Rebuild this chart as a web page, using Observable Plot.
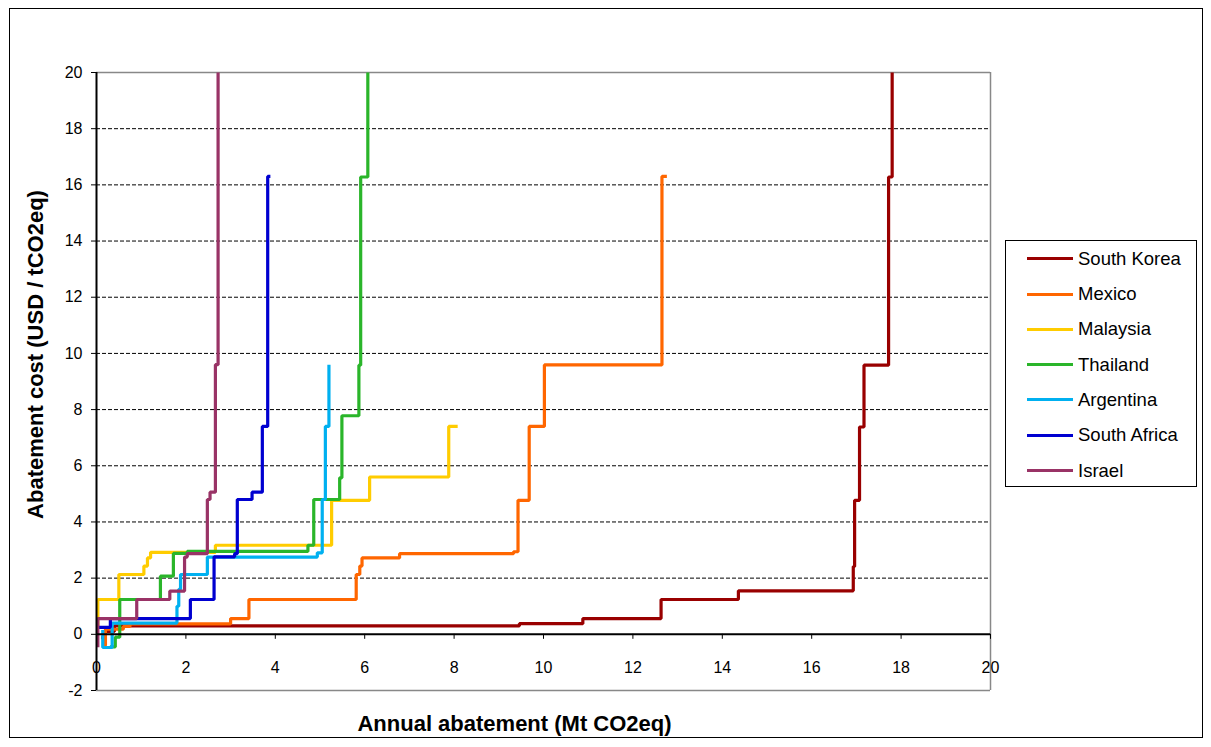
<!DOCTYPE html>
<html><head><meta charset="utf-8">
<script src="https://cdn.jsdelivr.net/npm/d3@7"></script>
<script src="https://cdn.jsdelivr.net/npm/@observablehq/plot@0.6"></script>
<style>
body{margin:0;background:#fff;font-family:"Liberation Sans",Arial,sans-serif;}
#wrap{position:relative;width:1211px;height:747px;overflow:hidden}
#frame{position:absolute;left:9px;top:8px;width:1194px;height:730px;border:1px solid #000;box-sizing:border-box;pointer-events:none}
#chart{position:absolute;left:0;top:0}
#legend{position:absolute;left:1005px;top:240px;width:192px;height:247px;border:1px solid #000;box-sizing:border-box;background:#fff}
.item{position:absolute;left:0;height:22px;width:190px}
.sw{position:absolute;left:21px;top:9.5px;width:46px;height:3px}
.lb{position:absolute;left:72px;top:0;line-height:22px;font-size:18.5px;color:#000;white-space:nowrap}
</style></head>
<body><div id="wrap"><div id="chart"></div><div id="legend"></div><div id="frame"></div></div>
<script>
const countries = ["South Korea","Mexico","Malaysia","Thailand","Argentina","South Africa","Israel"];
const colors = ["#990000","#FF6600","#FFCC00","#2AB52A","#00B0F0","#0000D0","#993366"];

const koreaX = [0.1, 0.18, 0.4, 9.46, 10.88, 12.63, 14.36, 16.93, 16.96, 17.07, 17.17, 17.72, 17.8];
const koreaY = [-0.12, 0.1, 0.3, 0.38, 0.56, 1.24, 1.55, 2.41, 4.77, 7.38, 9.58, 16.28, 20];
const mexicoX = [0.16, 0.2, 0.6, 0.75, 3.0, 3.41, 5.81, 5.89, 5.94, 6.78, 9.33, 9.43, 9.68, 10.02, 12.65, 12.76];
const mexicoY = [-0.4, 0.18, 0.28, 0.37, 0.56, 1.24, 2.13, 2.43, 2.72, 2.87, 2.94, 4.77, 7.4, 9.59, 16.3, 16.3];
const malaysiaX = [0.0, 0.03, 0.5, 1.06, 1.14, 1.21, 2.66, 5.26, 6.11, 7.88, 8.08];
const malaysiaY = [0.3, 1.24, 2.13, 2.43, 2.72, 2.92, 3.17, 4.77, 5.6, 7.4, 7.4];
const thailandX = [0.3, 0.42, 0.52, 1.43, 1.72, 2.03, 4.73, 4.86, 5.44, 5.49, 5.87, 5.91, 6.07];
const thailandY = [-0.45, -0.1, 1.24, 2.07, 2.88, 2.95, 3.17, 4.8, 5.57, 7.78, 9.58, 16.28, 20];
const argentinaX = [0.14, 0.14, 0.35, 1.8, 1.84, 1.88, 2.48, 4.94, 5.05, 5.12, 5.2];
const argentinaY = [0.15, -0.47, 0.4, 1.0, 1.6, 2.13, 2.75, 2.9, 4.8, 7.4, 9.6];
const safricaX = [0, 0.31, 2.1, 2.63, 3.09, 3.15, 3.48, 3.71, 3.83, 3.89];
const safricaY = [0.25, 0.56, 1.24, 2.76, 2.87, 4.8, 5.06, 7.4, 16.3, 16.3];
const israelX = [0.03, 0.03, 0.9, 1.64, 1.97, 2.03, 2.48, 2.54, 2.66, 2.72];
const israelY = [-0.46, 0.56, 1.24, 1.54, 2.75, 2.87, 4.8, 5.06, 9.6, 20];

const xTicks = [0,2,4,6,8,10,12,14,16,18,20];
const yTicks = [-2,0,2,4,6,8,10,12,14,16,18,20];
const gridY = [2,4,6,8,10,12,14,16,18];
const xDomain = [0, 20];
const yDomain = [-2, 20];
const xTitle = "Annual abatement (Mt CO2eq)";
const yTitle = "Abatement cost (USD / tCO2eq)";

const seriesX = [koreaX, mexicoX, malaysiaX, thailandX, argentinaX, safricaX, israelX];
const seriesY = [koreaY, mexicoY, malaysiaY, thailandY, argentinaY, safricaY, israelY];
const rows = [];
countries.forEach((c, k) => seriesX[k].forEach((x, i) => rows.push({country: c, x, y: seriesY[k][i]})));

const font = "Liberation Sans, Arial, sans-serif";
const chart = Plot.plot({
  width: 1211, height: 747,
  marginLeft: 96, marginRight: 221, marginTop: 72, marginBottom: 57,
  x: {domain: xDomain, axis: null},
  y: {domain: yDomain, axis: null},
  color: {domain: countries, range: colors},
  style: {fontFamily: font, background: "transparent", color: "#000", overflow: "visible"},
  marks: [
    Plot.ruleY(gridY, {stroke: "#000", strokeDasharray: "4,2", strokeWidth: 1}),
    Plot.ruleY([yDomain[1], yDomain[0]], {stroke: "#888", strokeWidth: 1.5}),
    Plot.ruleX([xDomain[1]], {stroke: "#888", strokeWidth: 1.5}),
    Plot.line(rows, {x: "x", y: "y", z: "country", stroke: "country", strokeWidth: 3.2, curve: "step-after", strokeLinejoin: "miter", strokeLinecap: "butt"}),
    Plot.ruleY([0], {stroke: "#000", strokeWidth: 2}),
    Plot.ruleX([0], {stroke: "#000", strokeWidth: 2}),
    Plot.ruleX(xTicks, {x: d => d, y1: 0, y2: 0, insetBottom: -5, stroke: "#000", strokeWidth: 1}),
    Plot.text(xTicks, {x: d => d, y: 0, dy: 34, text: d => String(d), fontSize: 16, fill: "#000"}),
    Plot.axisY(yTicks, {tickSize: 5, tickPadding: 9, fontSize: 16, tickFormat: d => String(d), label: null, stroke: "#000", fill: "#000"}),
    Plot.text([yTitle], {frameAnchor: "left", textAnchor: "middle", lineAnchor: "middle", rotate: -90, dx: -61, dy: -27, fontWeight: "bold", fontSize: 22, fill: "#000"}),
    Plot.text([xTitle], {frameAnchor: "bottom", textAnchor: "middle", lineAnchor: "middle", dx: -29, dy: 33, fontWeight: "bold", fontSize: 22, fill: "#000"})
  ]
});
document.getElementById("chart").appendChild(chart);

const leg = document.getElementById("legend");
countries.forEach((c, i) => {
  const it = document.createElement("div");
  it.className = "item";
  it.style.top = (6.7 + i * 35.3) + "px";
  it.innerHTML = `<div class="sw" style="background:${colors[i]}"></div><div class="lb">${c}</div>`;
  leg.appendChild(it);
});
</script></body></html>
